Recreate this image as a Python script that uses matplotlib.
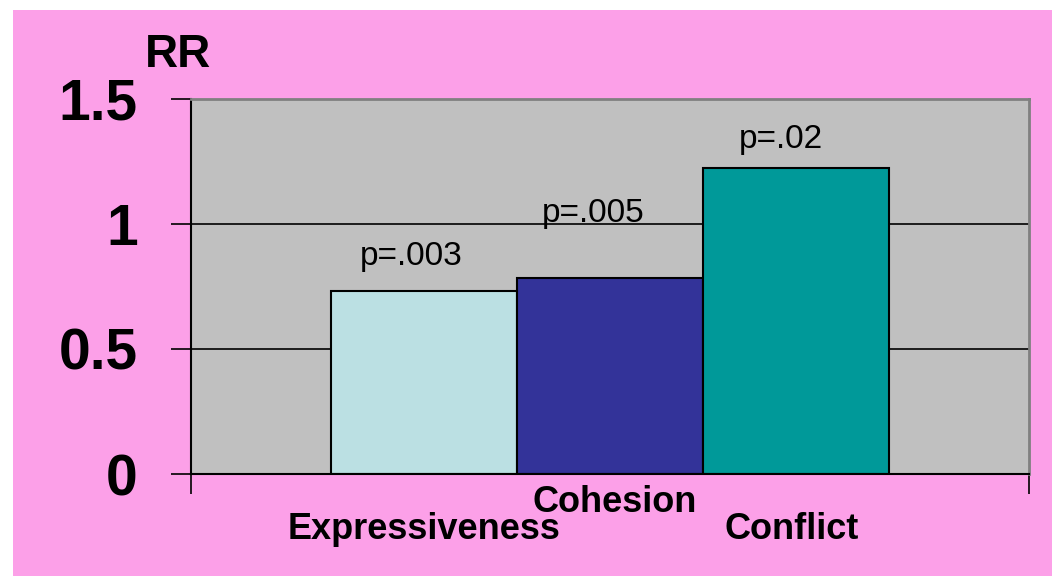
import numpy as np
import matplotlib.pyplot as plt
from matplotlib.patches import Rectangle

plt.rcParams['font.family'] = ['Liberation Sans', 'DejaVu Sans']

# relative risk per family factor
labels = ['Expressiveness', 'Cohesion', 'Conflict']
rr = [0.732, 0.784, 1.224]
pvals = ['p=.003', 'p=.005', 'p=.02']
colors = ['#BBE0E3', '#333399', '#009999']
yticks = [0, 0.5, 1, 1.5]
ytick_labels = ['0', '0.5', '1', '1.5']

pink = '#FCA0E8'

fig = plt.figure(figsize=(10.52, 5.76), dpi=100, facecolor='white')
fig.patches.append(Rectangle((13 / 1052, 0), 1, 566 / 576, transform=fig.transFigure,
                             facecolor=pink, edgecolor='none', zorder=-10))

ax = fig.add_axes([191 / 1052, 102 / 576, 838 / 1052, 375 / 576])
ax.set_zorder(1)
ax.set_facecolor('#C0C0C0')

width = 0.2223
x = 0.5 + width * (np.arange(len(rr)) - 1)
ax.bar(x, rr, width=width, color=colors, edgecolor='black', linewidth=1.5, zorder=3)

for yv in yticks[1:-1]:
    ax.axhline(yv, color='black', linewidth=1.2, zorder=1)

# p-value labels sit a little left of each bar centre
label_gap = [0.104, 0.224, 0.08]
label_dx = [-0.015, -0.02, -0.018]
for xi, v, p, g, dx in zip(x, rr, pvals, label_gap, label_dx):
    ax.text(xi + dx, v + g, p, ha='center', va='baseline', fontsize=24)

ax.set_xlim(0, 1)
ax.set_ylim(0, 1.5)
ax.set_yticks(yticks)
ax.set_yticklabels(ytick_labels, fontsize=41, fontweight='bold')
ax.set_xticks([0, 1])
ax.set_xticklabels(['', ''])
ax.tick_params(axis='both', direction='out', length=14.4, width=1.2, color='black')
ax.tick_params(axis='y', pad=24)

for s in ['left', 'bottom']:
    ax.spines[s].set_color('black')
    ax.spines[s].set_linewidth(1.5)
for s in ['top', 'right']:
    ax.spines[s].set_color('#808080')
    ax.spines[s].set_linewidth(2)
for s in ax.spines.values():
    s.set_zorder(4)

# staggered category names under the bars
name_y = [-0.26, -0.152, -0.26]
name_dx = [0.0, 0.005, -0.005]
for xi, name, ny, dx in zip(x, labels, name_y, name_dx):
    ax.text(xi + dx, ny, name, ha='center', va='baseline', fontsize=26,
            fontweight='bold', clip_on=False)

fig.text(178 / 1052, 1 - 67 / 576, 'RR', ha='center', va='baseline',
         fontsize=33, fontweight='bold')

fig.savefig('out.png', dpi=100, facecolor=fig.get_facecolor())
